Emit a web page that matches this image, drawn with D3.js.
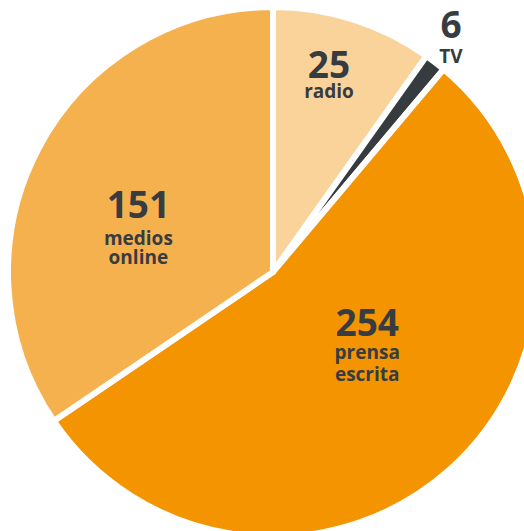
<!DOCTYPE html>
<html>
<head>
<meta charset="utf-8">
<script src="https://cdn.jsdelivr.net/npm/d3@7"></script>
<style>
  html, body { margin: 0; padding: 0; background: #fff; overflow: hidden; }
  text { font-family: "Open Sans", sans-serif; font-weight: 700; fill: #373c41; }
</style>
</head>
<body>
<div id="chart"></div>
<script>
// data
var categories = ["radio", "TV", "prensa escrita", "medios online"]
var counts = [25, 6, 254, 151]
// slice sizes as drawn in the picture (degrees of the circle)
var drawnShares = [35.4, 4.7, 195.7, 124.2]
var colors = ["#fad39b", "#363b40", "#f39400", "#f6b14f"]

var width = 524, height = 531
var cx = 273, cy = 272, R = 265

var svg = d3.select("#chart").append("svg")
    .attr("width", width)
    .attr("height", height)
var g = svg.append("g").attr("transform", "translate(" + cx + "," + cy + ")")

var rows = categories.map((c, i) => ({ name: c, count: counts[i], share: drawnShares[i], color: colors[i] }))

var pie = d3.pie().sort(null).value(d => d.share)
var arc = d3.arc().innerRadius(0).outerRadius(R)
var arcs = pie(rows)

g.selectAll("path.slice")
    .data(arcs)
  .enter().append("path")
    .attr("class", "slice")
    .attr("d", arc)
    .attr("fill", d => d.data.color)
    .attr("stroke", "#fff")
    .attr("stroke-width", 6)
    .attr("stroke-linejoin", "miter")

// label placement (same order as categories): radius from center and angle nudge (deg),
// anchored at the number's baseline
var labelLayout = [
  { r: 202, da: -1.6, gap: [0, 20] },
  { r: 294, da: -0.5, gap: [0, 25] },
  { r: 114, da: -13.7, gap: [0, 23, 22] },
  { r: 145, da: -6.1, gap: [0, 27, 19] }
]

var labels = g.selectAll("g.label")
    .data(arcs)
  .enter().append("g")
    .attr("class", "label")
    .attr("transform", (d, i) => {
      var L = labelLayout[i]
      var a = (d.startAngle + d.endAngle) / 2 + L.da * Math.PI / 180
      return "translate(" + (Math.sin(a) * L.r) + "," + (-Math.cos(a) * L.r) + ")"
    })

labels.each(function(d, i) {
  var L = labelLayout[i]
  var el = d3.select(this)
  var lines = [String(d.data.count)].concat(d.data.name.split(" "))
  var y = 0
  lines.forEach((t, k) => {
    y += L.gap[k]
    el.append("text")
      .attr("text-anchor", "middle")
      .attr("y", y)
      .attr("font-size", k === 0 ? 37 : 19)
      .text(t)
  })
})
</script>
</body>
</html>
